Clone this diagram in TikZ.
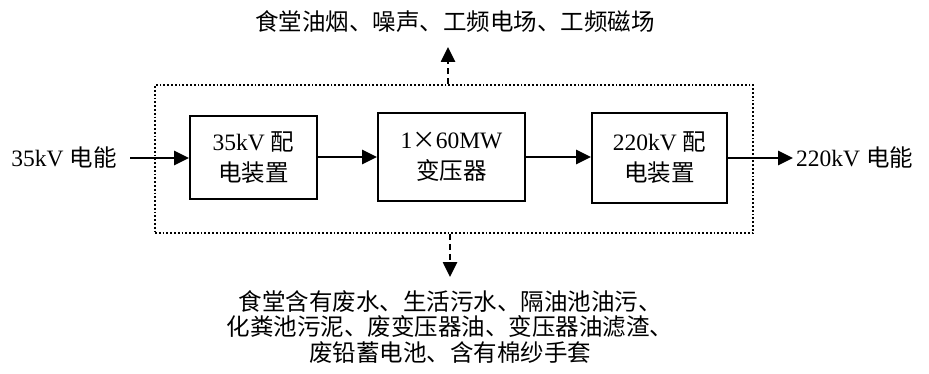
\documentclass[tikz,border=0pt]{standalone}
\usepackage{fontspec}
\setmainfont{Liberation Serif}
\newfontfamily\cjk{Noto Sans CJK SC}
\usetikzlibrary{arrows.meta}
\begin{document}
\begin{tikzpicture}[x=1pt,y=-1pt,
  every node/.style={font=\fontsize{23.5}{31}\selectfont, inner sep=0pt},
  blk/.style={draw, line width=2pt, align=center},
  flow/.style={line width=2.6pt, -{Triangle[length=15pt,width=14pt]}},
  emis/.style={line width=2.6pt, dash pattern=on 6pt off 4pt, -{Triangle[length=15pt,width=14pt]}}
]
\useasboundingbox (0,0) rectangle (929,374);
\node[draw, dotted, line width=1.8pt, minimum width=598pt, minimum height=148pt] (frame) at (454,159) {};
\node[blk, minimum width=127pt, minimum height=83pt] (b1) at (253.5,157.5) {35kV {\cjk 配}\\{\cjk 电装置}};
\node[blk, minimum width=147pt, minimum height=88pt] (b2) at (451.5,157) {1{\cjk ×}60MW\\{\cjk 变压器}};
\node[blk, minimum width=135pt, minimum height=90pt] (b3) at (659.5,158) {220kV {\cjk 配}\\{\cjk 电装置}};
\node (in) at (64,158) {35kV {\cjk 电能}};
\node[anchor=west] (out) at (796,158) {220kV {\cjk 电能}};
\node (top) at (455,22) {\cjk 食堂油烟、噪声、工频电场、工频磁场};
\node[align=center, font=\fontsize{23.5}{25.5}\selectfont] (bot) at (450,327) {\cjk 食堂含有废水、生活污水、隔油池油污、\\\cjk 化粪池污泥、废变压器油、变压器油滤渣、\\\cjk 废铅蓄电池、含有棉纱手套};
\coordinate (inl) at (130,158);
\coordinate (outr) at (793,158);
\coordinate (uptip) at (448,47);
\coordinate (dntip) at (450,277);
\draw[flow] (inl) -- (b1.west |- inl);
\draw[flow] (b1.east |- b2) -- (b2.west);
\draw[flow] (b2.east) -- (b3.west |- b2);
\draw[flow] (b3.east) -- (outr);
\draw[emis] (frame.north -| uptip) -- (uptip);
\draw[emis] (frame.south -| dntip) -- (dntip);
\end{tikzpicture}
\end{document}
